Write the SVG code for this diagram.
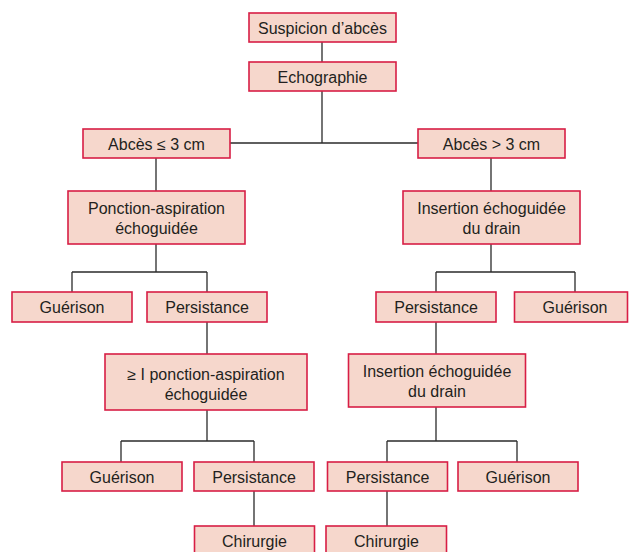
<svg xmlns="http://www.w3.org/2000/svg" width="629" height="552" viewBox="0 0 629 552">
<style>
.box{fill:#f6d7cc;stroke:#d81e45;stroke-width:1.6}
.t{font-family:"Liberation Sans",Arial,sans-serif;font-size:16px;fill:#231f20;text-anchor:middle}
.c{fill:none;stroke:#2b2b2b;stroke-width:1.3}
</style>
<rect width="629" height="552" fill="#fff"/>
<g id="connectors">
<path class="c" d="M322 42V62M322 91V143M230 143H418M156 158V191M491 158V191"/>
<path class="c" d="M156 244V272M72 272H207M72 272V292M207 272V292M207 322V354M207 410V441M121 441H254M121 441V462M254 441V462M254 491V526"/>
<path class="c" d="M491 244V272M436 272H575M436 272V292M575 272V292M436 322V354M436 407V441M387 441H517M387 441V462M517 441V462M387 491V526"/>
</g>
<g id="n1"><rect class="box" x="249" y="13" width="147" height="29"/><text class="t" x="322.5" y="33.5">Suspicion d’abcès</text></g>
<g id="n2"><rect class="box" x="249" y="62" width="147" height="29"/><text class="t" x="322.5" y="82.5">Echographie</text></g>
<g id="n3"><rect class="box" x="83" y="129" width="147" height="29"/><text class="t" x="156.5" y="149.5">Abcès ≤ 3 cm</text></g>
<g id="n4"><rect class="box" x="418" y="129" width="147" height="29"/><text class="t" x="491.5" y="149.5">Abcès &gt; 3 cm</text></g>
<g id="n5"><rect class="box" x="68" y="191" width="177" height="53"/><text class="t" x="156.5" y="214">Ponction-aspiration</text><text class="t" x="156.5" y="234">échoguidée</text></g>
<g id="n6"><rect class="box" x="403" y="191" width="177" height="53"/><text class="t" x="491.5" y="214">Insertion échoguidée</text><text class="t" x="491.5" y="234">du drain</text></g>
<g id="n7"><rect class="box" x="12" y="292" width="120" height="30"/><text class="t" x="72" y="313">Guérison</text></g>
<g id="n8"><rect class="box" x="147" y="292" width="120" height="30"/><text class="t" x="207" y="313">Persistance</text></g>
<g id="n9"><rect class="box" x="376" y="292" width="120" height="30"/><text class="t" x="436" y="313">Persistance</text></g>
<g id="n10"><rect class="box" x="514.5" y="292" width="113" height="30"/><text class="t" x="575" y="313">Guérison</text></g>
<g id="n11"><rect class="box" x="105" y="354" width="202" height="56"/><text class="t" x="206" y="380">≥ I ponction-aspiration</text><text class="t" x="206" y="400">échoguidée</text></g>
<g id="n12"><rect class="box" x="348.5" y="354" width="177" height="53"/><text class="t" x="437" y="377">Insertion échoguidée</text><text class="t" x="437" y="397">du drain</text></g>
<g id="n13"><rect class="box" x="62" y="462" width="120" height="29"/><text class="t" x="122" y="482.5">Guérison</text></g>
<g id="n14"><rect class="box" x="194" y="462" width="120" height="29"/><text class="t" x="254" y="482.5">Persistance</text></g>
<g id="n15"><rect class="box" x="327.5" y="462" width="120" height="29"/><text class="t" x="387.5" y="482.5">Persistance</text></g>
<g id="n16"><rect class="box" x="458" y="462" width="120" height="29"/><text class="t" x="518" y="482.5">Guérison</text></g>
<g id="n17"><rect class="box" x="194.5" y="526" width="120" height="30"/><text class="t" x="254.5" y="547">Chirurgie</text></g>
<g id="n18"><rect class="box" x="326" y="526" width="120.5" height="30"/><text class="t" x="386.5" y="547">Chirurgie</text></g>
</svg>
